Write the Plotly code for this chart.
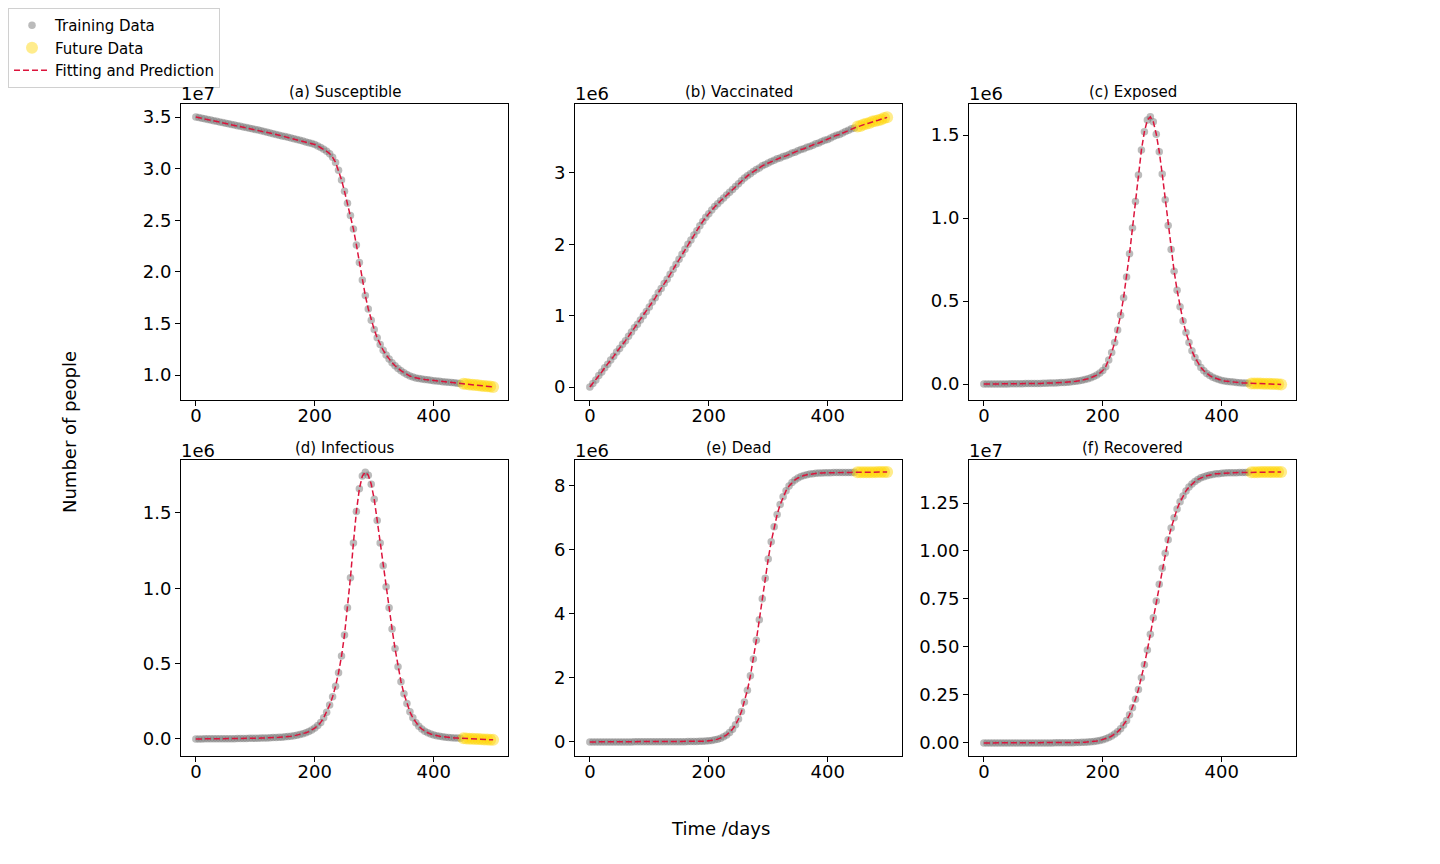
import plotly.graph_objects as go

# time axis, one sample every 5 days; day 450 starts the future part
days = list(range(0, 505, 5))
split = 90

# values, in units of the axis multiplier
susceptible_1e7 = [
    3.500, 3.494, 3.488, 3.482, 3.476, 3.470, 3.464, 3.458, 3.452, 3.446, 3.440,
    3.434, 3.428, 3.422, 3.416, 3.410, 3.404, 3.398, 3.392, 3.386, 3.380,
    3.373, 3.366, 3.359, 3.352, 3.345, 3.338, 3.331, 3.324, 3.317, 3.310,
    3.303, 3.296, 3.289, 3.282, 3.275, 3.267, 3.259, 3.251, 3.243, 3.233,
    3.220, 3.205, 3.188, 3.168, 3.145, 3.110, 3.060, 2.985, 2.890, 2.780,
    2.665, 2.545, 2.415, 2.260, 2.090, 1.920, 1.770, 1.640, 1.530, 1.440,
    1.360, 1.295, 1.240, 1.195, 1.155, 1.120, 1.090, 1.063, 1.042, 1.023,
    1.005, 0.990, 0.980, 0.972, 0.966, 0.961, 0.957, 0.953, 0.949, 0.945,
    0.942, 0.939, 0.936, 0.933, 0.930, 0.927, 0.924, 0.921, 0.918, 0.915,
    0.912, 0.909, 0.906, 0.903, 0.900, 0.897, 0.894, 0.891, 0.888, 0.885,
]
vaccinated_1e6 = [
    0.00, 0.05, 0.10, 0.16, 0.21, 0.27, 0.32, 0.38, 0.43, 0.49, 0.54,
    0.60, 0.65, 0.71, 0.77, 0.83, 0.88, 0.94, 1.00, 1.06, 1.12,
    1.19, 1.25, 1.32, 1.38, 1.45, 1.51, 1.58, 1.65, 1.72, 1.79,
    1.86, 1.93, 2.00, 2.06, 2.13, 2.19, 2.26, 2.32, 2.38, 2.43,
    2.48, 2.53, 2.57, 2.61, 2.65, 2.69, 2.73, 2.77, 2.81, 2.85,
    2.89, 2.93, 2.96, 2.99, 3.02, 3.05, 3.07, 3.10, 3.12, 3.14,
    3.16, 3.18, 3.20, 3.21, 3.23, 3.24, 3.26, 3.28, 3.29, 3.31,
    3.33, 3.34, 3.36, 3.37, 3.39, 3.41, 3.42, 3.44, 3.46, 3.47,
    3.49, 3.51, 3.53, 3.54, 3.56, 3.58, 3.60, 3.62, 3.63, 3.65,
    3.66, 3.68, 3.69, 3.70, 3.72, 3.73, 3.74, 3.75, 3.77, 3.78,
]
exposed_1e6 = [
    0.000, 0.000, 0.001, 0.001, 0.001, 0.001, 0.001, 0.001, 0.001, 0.002, 0.002,
    0.002, 0.002, 0.002, 0.003, 0.003, 0.003, 0.003, 0.004, 0.004, 0.005,
    0.005, 0.006, 0.006, 0.007, 0.008, 0.009, 0.010, 0.011, 0.013, 0.015,
    0.017, 0.020, 0.023, 0.027, 0.032, 0.038, 0.045, 0.054, 0.066, 0.082,
    0.105, 0.145, 0.190, 0.250, 0.325, 0.415, 0.520, 0.645, 0.785, 0.940,
    1.100, 1.260, 1.410, 1.520, 1.590, 1.610, 1.580, 1.505, 1.400, 1.265,
    1.110, 0.955, 0.810, 0.680, 0.565, 0.465, 0.380, 0.310, 0.250, 0.200,
    0.160, 0.128, 0.100, 0.080, 0.064, 0.051, 0.041, 0.033, 0.027, 0.022,
    0.019, 0.016, 0.014, 0.012, 0.010, 0.008, 0.007, 0.006, 0.005, 0.004,
    0.004, 0.003, 0.003, 0.002, 0.002, 0.002, 0.001, 0.000, -0.001, -0.002,
]
infectious_1e6 = [
    0.000, 0.000, 0.000, 0.001, 0.001, 0.001, 0.001, 0.001, 0.001, 0.002, 0.002,
    0.002, 0.002, 0.002, 0.003, 0.003, 0.003, 0.003, 0.004, 0.004, 0.005,
    0.005, 0.006, 0.006, 0.007, 0.008, 0.009, 0.010, 0.011, 0.012, 0.014,
    0.016, 0.018, 0.021, 0.025, 0.029, 0.034, 0.041, 0.049, 0.059, 0.072,
    0.089, 0.110, 0.140, 0.178, 0.225, 0.280, 0.350, 0.440, 0.550, 0.690,
    0.870, 1.070, 1.300, 1.510, 1.660, 1.745, 1.770, 1.750, 1.690, 1.590,
    1.450, 1.300, 1.150, 1.010, 0.870, 0.730, 0.600, 0.480, 0.380, 0.300,
    0.235, 0.180, 0.140, 0.108, 0.084, 0.066, 0.052, 0.041, 0.033, 0.027,
    0.022, 0.018, 0.015, 0.012, 0.010, 0.008, 0.007, 0.006, 0.005, 0.004,
    0.003, 0.002, 0.001, 0.000, -0.001, -0.002, -0.003, -0.004, -0.005, -0.006,
]
dead_1e6 = [
    0.000, 0.000, 0.000, 0.000, 0.000, 0.000, 0.000, 0.001, 0.001, 0.001, 0.001,
    0.001, 0.001, 0.001, 0.001, 0.002, 0.002, 0.002, 0.002, 0.003, 0.003,
    0.003, 0.003, 0.004, 0.004, 0.004, 0.005, 0.005, 0.006, 0.006, 0.007,
    0.008, 0.009, 0.010, 0.011, 0.013, 0.015, 0.018, 0.021, 0.026, 0.034,
    0.047, 0.064, 0.087, 0.118, 0.161, 0.218, 0.296, 0.399, 0.537, 0.717,
    0.950, 1.246, 1.616, 2.064, 2.588, 3.179, 3.817, 4.473, 5.116, 5.719,
    6.257, 6.721, 7.105, 7.416, 7.661, 7.851, 7.996, 8.105, 8.187, 8.249,
    8.294, 8.328, 8.352, 8.370, 8.384, 8.394, 8.401, 8.406, 8.410, 8.413,
    8.415, 8.417, 8.418, 8.419, 8.420, 8.421, 8.422, 8.423, 8.424, 8.425,
    8.426, 8.427, 8.428, 8.429, 8.430, 8.431, 8.432, 8.433, 8.434, 8.435,
]
recovered_1e7 = [
    0.000, 0.000, 0.000, 0.000, 0.000, 0.000, 0.000, 0.000, 0.000, 0.000, 0.000,
    0.000, 0.000, 0.000, 0.000, 0.000, 0.000, 0.000, 0.000, 0.000, 0.000,
    0.000, 0.000, 0.000, 0.001, 0.001, 0.001, 0.001, 0.001, 0.001, 0.001,
    0.002, 0.002, 0.003, 0.004, 0.005, 0.006, 0.008, 0.010, 0.013, 0.017,
    0.022, 0.028, 0.036, 0.046, 0.058, 0.074, 0.093, 0.117, 0.147, 0.183,
    0.227, 0.279, 0.339, 0.408, 0.484, 0.566, 0.652, 0.740, 0.827, 0.910,
    0.988, 1.058, 1.120, 1.173, 1.219, 1.256, 1.287, 1.313, 1.333, 1.349,
    1.362, 1.373, 1.381, 1.387, 1.392, 1.396, 1.399, 1.402, 1.403, 1.405,
    1.406, 1.407, 1.407, 1.408, 1.408, 1.409, 1.409, 1.409, 1.410, 1.410,
    1.410, 1.410, 1.411, 1.411, 1.411, 1.411, 1.412, 1.412, 1.412, 1.412,
]

titles = ['(a) Susceptible', '(b) Vaccinated', '(c) Exposed',
          '(d) Infectious', '(e) Dead', '(f) Recovered']
multipliers = ['1e7', '1e6', '1e6', '1e6', '1e6', '1e7']
series = [susceptible_1e7, vaccinated_1e6, exposed_1e6,
          infectious_1e6, dead_1e6, recovered_1e7]
y_ticks = [
    [1.0, 1.5, 2.0, 2.5, 3.0, 3.5],
    [0, 1, 2, 3],
    [0.0, 0.5, 1.0, 1.5],
    [0.0, 0.5, 1.0, 1.5],
    [0, 2, 4, 6, 8],
    [0.0, 0.25, 0.5, 0.75, 1.0, 1.25],
]
tick_fmt = ['.1f', 'd', '.1f', '.1f', 'd', '.2f']
y_ranges = [[0.758, 3.626], [-0.182, 3.967], [-0.096, 1.687],
            [-0.113, 1.851], [-0.44, 8.81], [-0.068, 1.474]]

W, H = 1440, 864
OFF = 8  # page body margin
col_px = [(181, 508), (575, 902), (969, 1296)]
row_px = [(104, 400), (460, 756)]
FONT = 'DejaVu Sans'


def px(x):
    return (x - OFF) / W


def py(y):
    return 1 - (y - OFF) / H


fig = go.Figure()
annotations = []
for i in range(6):
    r, c = divmod(i, 3)
    n = '' if i == 0 else str(i + 1)
    vals = series[i]
    fig.add_trace(go.Scatter(
        x=days[:split], y=vals[:split], mode='markers', name='Training Data',
        marker=dict(color='rgba(120,120,120,0.5)', size=7.5, line=dict(width=0)),
        showlegend=(i == 0), xaxis='x' + n, yaxis='y' + n))
    fig.add_trace(go.Scatter(
        x=days[split:], y=vals[split:], mode='markers', name='Future Data',
        marker=dict(color='rgba(255,212,0,0.45)', size=12, line=dict(width=0)),
        showlegend=(i == 0), xaxis='x' + n, yaxis='y' + n))
    fig.add_trace(go.Scatter(
        x=days, y=vals, mode='lines', name='Fitting and Prediction',
        line=dict(color='crimson', width=1.5, dash='6px,3px'),
        showlegend=(i == 0), xaxis='x' + n, yaxis='y' + n))

    x0, x1 = col_px[c]
    y0, y1 = row_px[r]
    common = dict(showline=True, mirror=True, linecolor='black', linewidth=1,
                  ticks='outside', ticklen=5, tickwidth=1, tickcolor='black',
                  showgrid=False, zeroline=False,
                  tickfont=dict(family=FONT, size=18, color='black'))
    fig.update_layout({
        'xaxis' + n: dict(domain=[px(x0), px(x1)], anchor='y' + n,
                          range=[-25, 525], tickvals=[0, 200, 400],
                          ticklabelstandoff=-6, **common),
        'yaxis' + n: dict(domain=[py(y1), py(y0)], anchor='x' + n,
                          range=y_ranges[i], tickvals=y_ticks[i],
                          tickformat=tick_fmt[i], **common),
    })
    annotations.append(dict(text=titles[i], xref='paper', yref='paper',
                            x=px((x0 + x1) / 2), y=py(y0 - 12),
                            xanchor='center', yanchor='middle', showarrow=False,
                            font=dict(family=FONT, size=15, color='black')))
    annotations.append(dict(text=multipliers[i], xref='paper', yref='paper',
                            x=px(x0 - 2), y=py(y0 - 10),
                            xanchor='left', yanchor='middle', showarrow=False,
                            font=dict(family=FONT, size=18, color='black')))

annotations.append(dict(text='Number of people', xref='paper', yref='paper',
                        x=px(70), y=py(432), textangle=-90, showarrow=False,
                        xanchor='center', yanchor='middle',
                        font=dict(family=FONT, size=18, color='black')))
annotations.append(dict(text='Time /days', xref='paper', yref='paper',
                        x=px(720), y=py(828), showarrow=False,
                        xanchor='center', yanchor='middle',
                        font=dict(family=FONT, size=18, color='black')))

fig.update_layout(
    width=W, height=H,
    margin=dict(l=0, r=0, t=0, b=0),
    paper_bgcolor='white', plot_bgcolor='white',
    font=dict(family=FONT, color='black'),
    annotations=annotations,
    legend=dict(x=px(8), y=1, xanchor='left', yanchor='top',
                bgcolor='white', bordercolor='#d0d0d0', borderwidth=1,
                font=dict(family=FONT, size=15, color='black'),
                itemwidth=36, tracegroupgap=0),
)

fig.write_html('out.html')
